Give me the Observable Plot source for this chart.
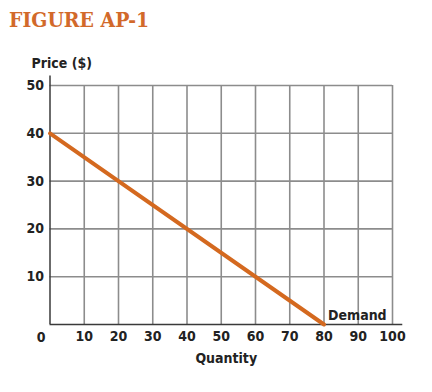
<!DOCTYPE html>
<html>
<head>
<meta charset="utf-8">
<script src="https://cdn.jsdelivr.net/npm/d3@7"></script>
<script src="https://cdn.jsdelivr.net/npm/@observablehq/plot@0.6"></script>
<style>
  html, body { margin: 0; padding: 0; background: #fff; width: 432px; height: 392px; overflow: hidden; }
  #title { height: 40px; box-sizing: border-box; padding: 8px 0 0 9px; font-family: "DejaVu Serif", serif; font-stretch: condensed; font-weight: bold; font-size: 21px; color: #d2692a; line-height: 24px; }
  #chart svg { display: block; }
  #chart svg text { font-stretch: condensed; }
</style>
</head>
<body>
<div id="title">FIGURE AP-1</div>
<div id="chart"></div>
<script>
const quantity = [0, 80];
const price = [40, 0];
const seriesName = "Demand";
const xTicks = [10, 20, 30, 40, 50, 60, 70, 80, 90, 100];
const yTicks = [10, 20, 30, 40, 50];
const originLabel = ["0"];
const xLabel = "Quantity";
const yLabel = "Price ($)";

const demand = quantity.map((q, i) => ({q, p: price[i]}));
const font = "'Liberation Sans Narrow', 'DejaVu Sans', sans-serif";
const grid = "#8c8c8c";
const axis = "#3a3a3a";
const orange = "#d4691f";

const plot = Plot.plot({
  width: 432,
  height: 352,
  marginLeft: 49.5,
  marginRight: 40,
  marginTop: 45,
  marginBottom: 68,
  style: {fontFamily: font, fontSize: "14px", fontWeight: "bold", color: "#222", overflow: "visible"},
  x: {domain: [0, 100]},
  y: {domain: [0, 50]},
  marks: [
    Plot.ruleX(xTicks, {y1: 0, y2: 50, stroke: grid, strokeWidth: 1.6}),
    Plot.ruleY(yTicks, {x1: 0, x2: 100, stroke: grid, strokeWidth: 1.6}),
    Plot.ruleY([0], {x1: 0, x2: 103, stroke: axis, strokeWidth: 1.5, clip: false}),
    Plot.ruleX([0], {y1: 0, y2: 52, stroke: axis, strokeWidth: 1.5, clip: false}),
    Plot.axisX(xTicks, {tickSize: 0, tickPadding: 7, label: null, fontSize: 14, fontWeight: "bold"}),
    Plot.axisY(yTicks, {tickSize: 0, tickPadding: 6, label: null, fontSize: 14, fontWeight: "bold"}),
    Plot.text(originLabel, {x: 0, y: 0, text: d => d, dx: -9, dy: 13, fontSize: 14, fontWeight: "bold"}),
    Plot.line(demand, {x: "q", y: "p", stroke: orange, strokeWidth: 4}),
    Plot.text([demand[demand.length - 1]], {x: "q", y: "p", text: () => seriesName, textAnchor: "start", dx: 4, dy: -9, fontSize: 14, fontWeight: "bold"}),
    Plot.text([xLabel], {frameAnchor: "bottom", text: d => d, dx: 5, dy: 38, fontSize: 14, fontWeight: "bold"}),
    Plot.text([yLabel], {frameAnchor: "top-left", text: d => d, textAnchor: "start", dx: -18.5, dy: -27, fontSize: 14, fontWeight: "bold"})
  ]
});
document.getElementById("chart").appendChild(plot);
</script>
</body>
</html>
